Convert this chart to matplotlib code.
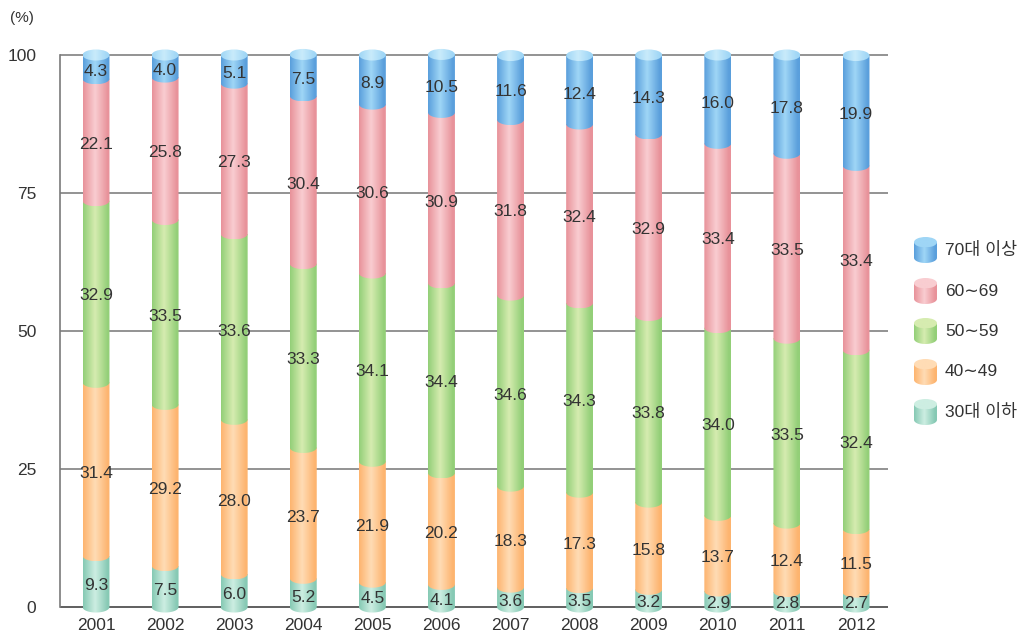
import numpy as np
import matplotlib.pyplot as plt
from matplotlib.path import Path
from matplotlib.patches import PathPatch, Ellipse
from matplotlib.colors import to_rgb

plt.rcParams['font.family'] = ['Liberation Sans', 'Noto Sans CJK KR', 'DejaVu Sans']

years = ['2001', '2002', '2003', '2004', '2005', '2006',
         '2007', '2008', '2009', '2010', '2011', '2012']
age_30_under = [9.3, 7.5, 6.0, 5.2, 4.5, 4.1, 3.6, 3.5, 3.2, 2.9, 2.8, 2.7]
age_40s = [31.4, 29.2, 28.0, 23.7, 21.9, 20.2, 18.3, 17.3, 15.8, 13.7, 12.4, 11.5]
age_50s = [32.9, 33.5, 33.6, 33.3, 34.1, 34.4, 34.6, 34.3, 33.8, 34.0, 33.5, 32.4]
age_60s = [22.1, 25.8, 27.3, 30.4, 30.6, 30.9, 31.8, 32.4, 32.9, 33.4, 33.5, 33.4]
age_70_over = [4.3, 4.0, 5.1, 7.5, 8.9, 10.5, 11.6, 12.4, 14.3, 16.0, 17.8, 19.9]

series = [age_30_under, age_40s, age_50s, age_60s, age_70_over]
labels = ['30대 이하', '40∼49', '50∼59', '60∼69', '70대 이상']
# (edge colour, highlight colour) for the cylinder shading
shades = [('#86c9b4', '#cdeee2'),
          ('#fdb46f', '#ffdcb5'),
          ('#93cf78', '#d6ecb0'),
          ('#e8929a', '#f9cdd1'),
          ('#5a9fdc', '#9fd6f6')]

W = 0.39   # bar width
E = 1.0    # semi-height of ellipse caps


def gradient(c_edge, c_light, n=64):
    a = np.array(to_rgb(c_edge))
    b = np.array(to_rgb(c_light))
    t = np.linspace(0, 1, n)
    w = np.where(t < 0.45, t / 0.45, 1 - (t - 0.45) / 0.55 * 1.15)
    w = np.clip(w, 0, 1)
    img = a[None, :] * (1 - w[:, None]) + b[None, :] * w[:, None]
    return img[None, :, :]


def segment_path(x, b, t, w=W, e=E):
    # rectangle from b to t, bottom edge is lower half of an ellipse
    theta = np.linspace(np.pi, 2 * np.pi, 40)
    xs = x + w / 2 * np.cos(theta)
    ys = b + e * np.sin(theta)
    verts = list(zip(xs, ys)) + [(x + w / 2, t), (x - w / 2, t), (x - w / 2, b)]
    codes = [Path.MOVETO] + [Path.LINETO] * (len(verts) - 2) + [Path.CLOSEPOLY]
    return Path(verts, codes)


fig = plt.figure(figsize=(10.28, 6.34), dpi=100)
ylo, yhi = -2, 102
px_per_unit = 552 / 100
ax_h = (yhi - ylo) * px_per_unit
ax_bottom = 634 - 607 - (0 - ylo) * px_per_unit
ax = fig.add_axes([60 / 1028, ax_bottom / 634, (888 - 60) / 1028, ax_h / 634])
ax.set_xlim(-0.521, 11.463)
ax.set_ylim(ylo, yhi)

for s in ['top', 'right', 'bottom']:
    ax.spines[s].set_visible(False)
ax.spines['left'].set_bounds(0, 100)
ax.spines['left'].set_color('#7a7a7a')
ax.spines['left'].set_linewidth(1.2)
for yv in [25, 50, 75, 100]:
    ax.plot([-0.521, 11.463], [yv, yv], color='#808080', lw=1.2, zorder=1)
ax.plot([-0.521, 11.463], [0, 0], color='#444444', lw=1.2, zorder=1)

ax.set_yticks([0, 25, 50, 75, 100])
ax.set_yticklabels(['0', '25', '50', '75', '100'])
ax.tick_params(axis='y', length=0, pad=17, labelsize=12.5, labelcolor='#333333')
ax.set_xticks(range(len(years)))
ax.set_xticklabels(years)
ax.tick_params(axis='x', length=0, pad=0, labelsize=12.5, labelcolor='#333333')

x = np.arange(len(years))
for i in x:
    base = 0.0
    for k, vals in enumerate(series):
        v = vals[i]
        top = base + v
        patch = PathPatch(segment_path(i, base, top), facecolor='none', edgecolor='none')
        ax.add_patch(patch)
        im = ax.imshow(gradient(*shades[k]), extent=[i - W / 2, i + W / 2, base - E, top],
                       aspect='auto', zorder=2 + k, interpolation='bilinear')
        im.set_clip_path(patch)
        if k == len(series) - 1:
            cap = Ellipse((i, top), W, 2 * E, facecolor='none', edgecolor='none')
            ax.add_patch(cap)
            im2 = ax.imshow(gradient(shades[k][1], '#c9ebfb'),
                            extent=[i - W / 2, i + W / 2, top - E, top + E],
                            aspect='auto', zorder=8, interpolation='bilinear')
            im2.set_clip_path(cap)
        ax.text(i, base + v / 2 - 0.8, f'{v:.1f}', ha='center', va='center',
                fontsize=12.5, color='#333333', zorder=10)
        base = top

ax.set_xlim(-0.521, 11.463)
ax.set_ylim(ylo, yhi)

fig.text(22 / 1028, 1 - 18 / 634, '(%)', ha='center', va='center', fontsize=11, color='#333333')

# legend with little cylinders
ys_leg = [412, 372, 331, 291, 250]
for k in range(len(series)):
    yc = 1 - ys_leg[k] / 634
    lax = fig.add_axes([914 / 1028, yc - 13 / 634, 23 / 1028, 26 / 634])
    lax.axis('off')
    p = PathPatch(segment_path(0, -0.3, 0.3, w=1.0, e=0.2), facecolor='none', edgecolor='none')
    lax.add_patch(p)
    im = lax.imshow(gradient(*shades[k]), extent=[-0.5, 0.5, -0.5, 0.3], aspect='auto')
    im.set_clip_path(p)
    c = Ellipse((0, 0.3), 1.0, 0.4, facecolor='none', edgecolor='none')
    lax.add_patch(c)
    im2 = lax.imshow(gradient(shades[k][1], shades[k][1]), extent=[-0.5, 0.5, 0.1, 0.5], aspect='auto')
    im2.set_clip_path(c)
    lax.set_xlim(-0.5, 0.5)
    lax.set_ylim(-0.5, 0.5)
    fig.text(945 / 1028, yc, labels[k], ha='left', va='center', fontsize=12.5, color='#333333')

fig.savefig('out.png', dpi=100)
